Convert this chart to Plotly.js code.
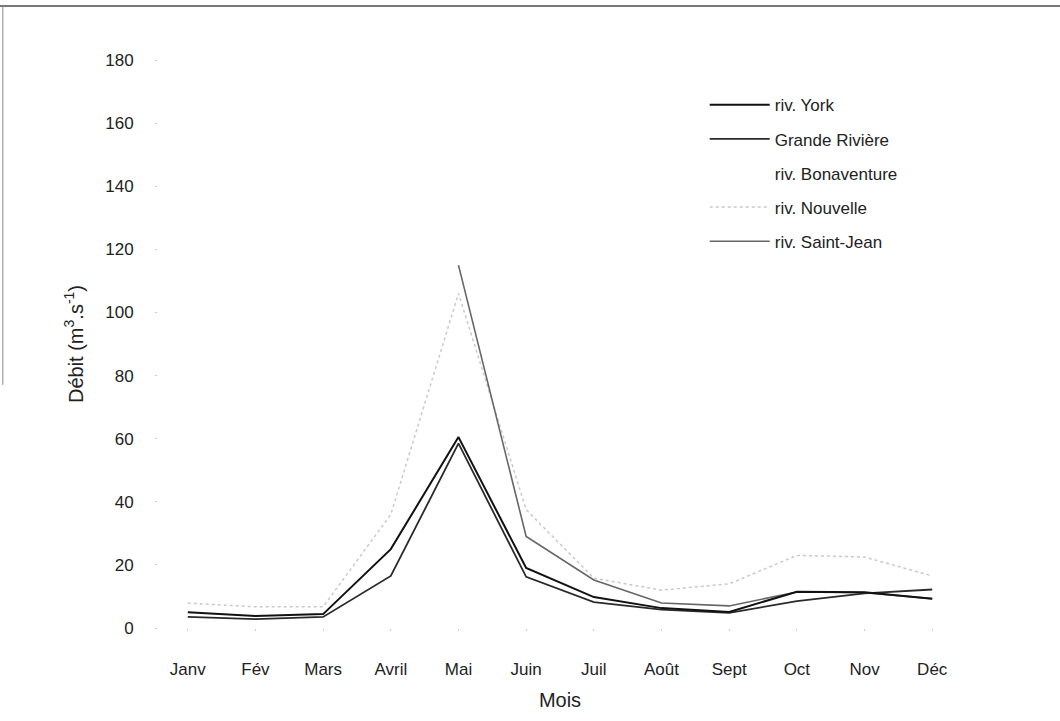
<!DOCTYPE html>
<html>
<head>
<meta charset="utf-8">
<script src="https://cdn.plot.ly/plotly-3.0.1.min.js"></script>
<style>html,body{margin:0;padding:0;background:#fff;}#chart{width:1060px;height:721px;}</style>
</head>
<body>
<div id="chart"></div>
<script>
const months = ["Janv","Fév","Mars","Avril","Mai","Juin","Juil","Août","Sept","Oct","Nov","Déc"];
const york = [5.0, 3.8, 4.4, 25.0, 60.5, 19.0, 9.8, 6.3, 5.1, 11.5, 11.3, 9.3];
const grande = [3.5, 2.8, 3.5, 16.5, 58.5, 16.2, 8.2, 5.8, 4.8, 8.5, 11.0, 12.2];
const bonaventure = [6.0, 5.0, 5.0, 34.0, 115.0, 29.0, 15.2, 7.9, 7.0, 11.4, 11.2, 9.3];
const nouvelle = [7.9, 6.7, 6.7, 36.0, 106.0, 37.5, 15.8, 12.0, 14.0, 23.0, 22.5, 16.5];
const saintJean = [null, null, null, null, 115.0, 29.0, 15.2, 7.9, 7.0, 11.4, 11.2, 9.3];

const idx = months.map((m, i) => i);
function tr(name, y, color, width, dash, grp, rank) {
  return {x: idx, y: y, name: name, type: 'scatter', mode: 'lines', legendgroup: grp, legendrank: rank,
    line: {color: color, width: width, dash: dash}, connectgaps: false, hoverinfo: 'skip'};
}
const data = [
  tr('riv. Bonaventure', bonaventure, 'rgba(255,255,255,0)', 1.5, 'solid', 'c', 3),
  tr('riv. Nouvelle', nouvelle, '#c9c9c9', 1.5, 'dot', 'd', 4),
  tr('riv. Saint-Jean', saintJean, '#666666', 1.6, 'solid', 'e', 5),
  tr('Grande Rivière', grande, '#2a2a2a', 1.8, 'solid', 'b', 2),
  tr('riv. York', york, '#111111', 2.0, 'solid', 'a', 1),
];

const font = 'Liberation Sans, Arial, sans-serif';
const layout = {
  width: 1060, height: 721,
  margin: {l: 158, r: 98, t: 60, b: 93, pad: 0},
  paper_bgcolor: '#fff', plot_bgcolor: '#fff',
  font: {family: font, size: 16, color: '#222'},
  showlegend: true,
  legend: {x: 0.68, y: 0.952, xanchor: 'left', yanchor: 'top', bgcolor: 'rgba(0,0,0,0)',
    font: {family: font, size: 17, color: '#222'}, tracegroupgap: 9, itemwidth: 60, traceorder: 'grouped'},
  xaxis: {
    range: [-0.44, 11.44], tickmode: 'array', tickvals: idx, ticktext: months,
    showgrid: false, zeroline: false, showline: false,
    ticks: 'outside', ticklen: 2, tickcolor: '#ccc', ticklabelstandoff: 24,
    tickfont: {family: font, size: 17, color: '#222'},
    title: {text: 'Mois', font: {family: font, size: 20, color: '#222'}, standoff: 14},
  },
  yaxis: {
    range: [0, 180], tickmode: 'array', tickvals: [0,20,40,60,80,100,120,140,160,180],
    showgrid: false, zeroline: false, showline: false,
    ticks: 'outside', ticklen: 2, tickcolor: '#ccc', ticklabelstandoff: 18,
    tickfont: {family: font, size: 17, color: '#222'},
    title: {text: 'Débit (m<sup>3</sup>.s<sup>-1</sup>)', font: {family: font, size: 20, color: '#222'}, standoff: 16},
  },
  shapes: [
    {type: 'line', xref: 'paper', yref: 'paper', x0: -0.2, x1: 1.13, y0: 1.095, y1: 1.095, line: {color: '#777', width: 2}},
    {type: 'line', xref: 'paper', yref: 'paper', x0: -0.193, x1: -0.193, y0: 1.095, y1: 0.428, line: {color: '#888', width: 1}},
  ],
};
Plotly.newPlot('chart', data, layout, {displayModeBar: false, staticPlot: true});
</script>
</body>
</html>
